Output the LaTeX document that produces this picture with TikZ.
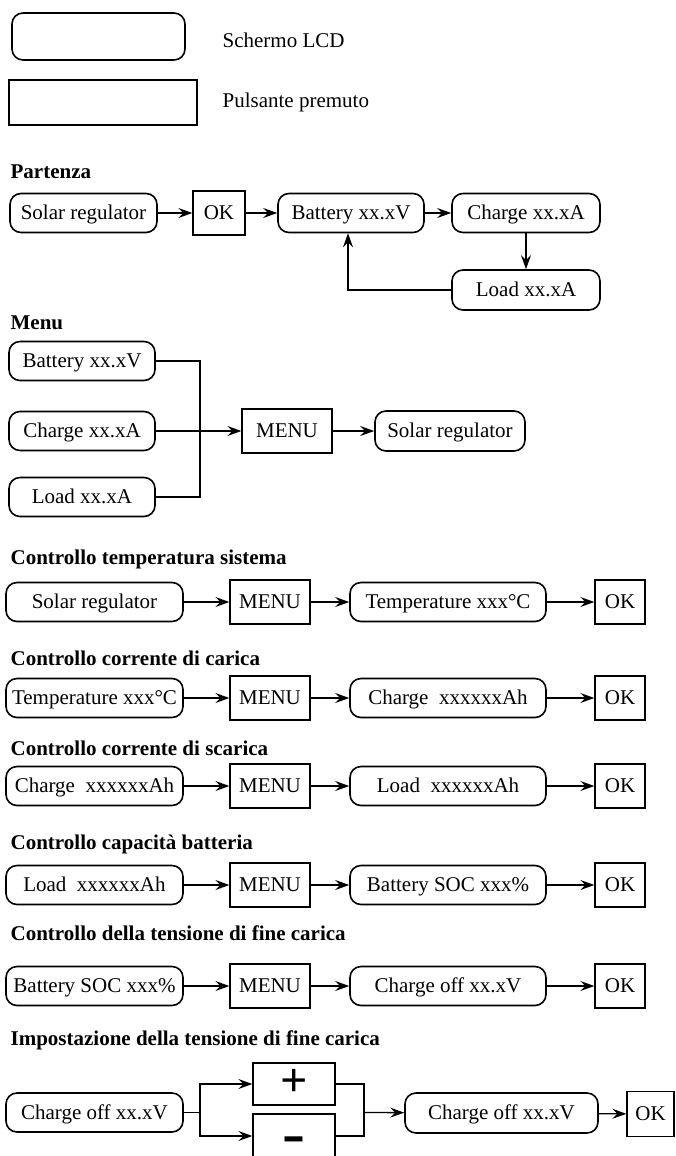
\documentclass[tikz,border=0pt]{standalone}
\usepackage{fontspec}
\setmainfont{Liberation Serif}
\usetikzlibrary{arrows.meta}

\tikzset{
  lcd/.style={draw, line width=1.6pt, rounded corners=11pt, minimum height=39pt, inner sep=0pt,
    text height=13pt, text depth=0pt},
  btn/.style={draw, line width=1.3pt, minimum height=44pt, inner sep=0pt,
    text height=13pt, text depth=0pt},
  head/.style={anchor=base west, inner sep=0pt, font=\fontsize{21}{25}\selectfont\bfseries},
  txt/.style={anchor=base west, inner sep=0pt},
  arr/.style={-{Stealth[length=14pt,width=10pt,inset=5pt]}},
}

\begin{document}
\begin{tikzpicture}[x=1pt, y=-1pt, line width=1.3pt,
    every node/.append style={font=\fontsize{21}{25}\selectfont}]
  \useasboundingbox (0,0) rectangle (675,1156);

  % legend
  \node[lcd, minimum width=173pt, minimum height=47pt] (keylcd) at (98.5,36.5) {};
  \node[txt] (keylcdtxt) at (222,48) {Schermo LCD};
  \node[btn, minimum width=188pt, minimum height=45pt] (keybtn) at (103,102.5) {};
  \node[txt] (keybtntxt) at (222,107) {Pulsante premuto};

  % Partenza
  \node[head] (hstart) at (10,178) {Partenza};
  \node[lcd, minimum width=147pt] (pstart) at (83.5,213) {Solar regulator};
  \node[btn, minimum width=52pt] (pok) at (219,213) {OK};
  \node[lcd, minimum width=146pt] (pbat) at (351,213) {Battery xx.xV};
  \node[lcd, minimum width=148pt] (pcha) at (526,213) {Charge xx.xA};
  \node[lcd, minimum width=148pt, minimum height=40pt] (pload) at (526,290) {Load xx.xA};
  \draw[arr] (pstart) -- (pok);
  \draw[arr] (pok) -- (pbat);
  \draw[arr] (pbat) -- (pcha);
  \draw[arr] (pcha) -- (pload);
  \draw[arr] (pload.west) -| ([xshift=-3pt]pbat.south);

  % Menu
  \node[head] (hmenu) at (10,329) {Menu};
  \node[lcd, minimum width=146pt] (mbat) at (82,361) {Battery xx.xV};
  \node[lcd, minimum width=146pt] (mcha) at (82,431) {Charge xx.xA};
  \node[lcd, minimum width=146pt] (mload) at (82,497) {Load xx.xA};
  \coordinate (mbus) at (200,431);
  \node[btn, minimum width=90pt] (mbtn) at (287,431) {MENU};
  \node[lcd, minimum width=150pt, minimum height=40pt] (msolar) at (450,431) {Solar regulator};
  \draw (mbat) -| (mbus) |- (mload);
  \draw[arr] (mcha) -- (mbtn);
  \draw[arr] (mbtn) -- (msolar);

  % controlli
  \foreach \hy/\ry/\title/\first/\second [count=\n] in {
      564/602/Controllo temperatura sistema/Solar regulator/Temperature xxx°C,
      665/698/Controllo corrente di carica/Temperature xxx°C/Charge\ \ xxxxxxAh,
      755/786/Controllo corrente di scarica/Charge\ \ xxxxxxAh/Load\ \ xxxxxxAh,
      849/885/Controllo capacità batteria/Load\ \ xxxxxxAh/Battery SOC xxx\%,
      940/986/Controllo della tensione di fine carica/Battery SOC xxx\%/Charge off xx.xV}
  {
    \node[head] (head\n) at (10,\hy) {\title};
    \node[lcd, minimum width=177pt] (disp\n) at (94.5,\ry) {\first};
    \node[btn, minimum width=80pt] (key\n) at (270,\ry) {MENU};
    \node[lcd, minimum width=196pt] (show\n) at (448,\ry) {\second};
    \node[btn, minimum width=50pt] (ok\n) at (620,\ry) {OK};
    \draw[arr] (disp\n) -- (key\n);
    \draw[arr] (key\n) -- (show\n);
    \draw[arr] (show\n) -- (ok\n);
  }

  % Impostazione
  \node[head] (hset) at (10,1045) {Impostazione della tensione di fine carica};
  \node[lcd, minimum width=177pt] (set1) at (94.5,1112.5) {Charge off xx.xV};
  \node[btn, minimum width=82pt, minimum height=42pt, text height=24pt] (plus) at (294,1084)
    {\fontsize{48}{48}\selectfont\bfseries +};
  \node[btn, minimum width=82pt, text height=34pt, text depth=0pt] (minus) at (294,1136)
    {\fontsize{60}{60}\selectfont\bfseries\scalebox{1.15}[1]{-}};
  \coordinate (split) at (200,1112.5);
  \coordinate (join) at (364,1112.5);
  \node[lcd, minimum width=193pt, minimum height=40pt] (set2) at (501.5,1113) {Charge off xx.xV};
  \node[btn, minimum width=47pt, minimum height=45pt] (set3) at (650.5,1114) {OK};
  \draw (set1) -- (split);
  \draw[arr] (split) |- (plus);
  \draw[arr] (split) |- (minus);
  \draw (plus) -| (join) |- (minus);
  \draw[arr] (join) -- (set2);
  \draw[arr] (set2) -- (set3);
\end{tikzpicture}
\end{document}
